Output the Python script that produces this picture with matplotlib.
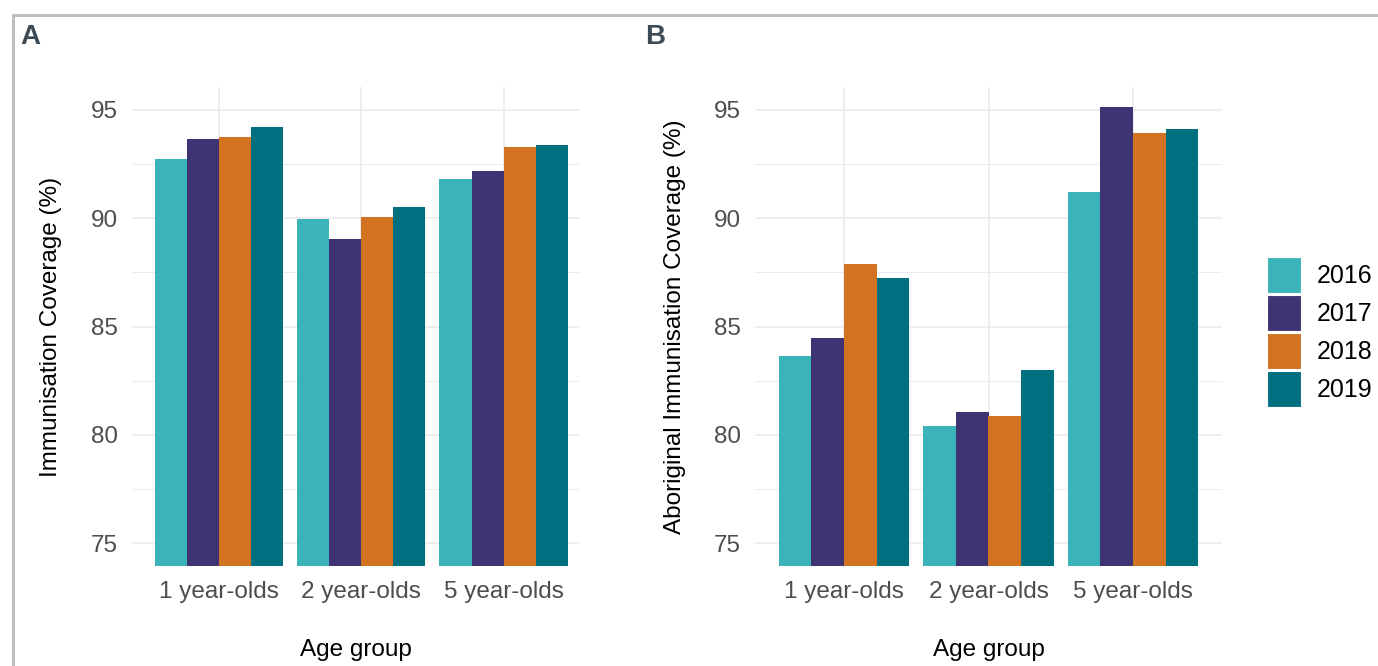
import matplotlib
matplotlib.use("Agg")
import matplotlib.pyplot as plt
import numpy as np
from matplotlib.patches import Patch
from matplotlib.lines import Line2D

plt.rcParams['font.family'] = ['Liberation Sans', 'DejaVu Sans']

categories = ["1 year-olds", "2 year-olds", "5 year-olds"]
years = ["2016", "2017", "2018", "2019"]
colors = ["#3BB4B9", "#3E3473", "#D27321", "#007080"]

# Panel A: Immunisation coverage (%) by year, per age group
cov_2016 = [92.74, 89.95, 91.81]
cov_2017 = [93.66, 89.02, 92.17]
cov_2018 = [93.76, 90.04, 93.29]
cov_2019 = [94.23, 90.52, 93.39]

# Panel B: Aboriginal immunisation coverage (%)
abo_2016 = [83.64, 80.40, 91.21]
abo_2017 = [84.46, 81.05, 95.12]
abo_2018 = [87.89, 80.87, 93.92]
abo_2019 = [87.25, 82.99, 94.12]

yticks = [75, 80, 85, 90, 95]
yminor = [77.5, 82.5, 87.5, 92.5]

W, H = 1378, 666
fig = plt.figure(figsize=(W / 100, H / 100), dpi=100)

TICK_FS = 17.5
LABEL_FS = 17.5


def make_panel(left, right, series, ylabel, xlim, ylabel_x, letter, letter_x):
    ax = fig.add_axes([left / W, (H - 566) / H, (right - left) / W, (566 - 87) / H])
    x = np.arange(1, len(categories) + 1)
    n = len(series)
    width = 0.9 / n
    for i, (vals, c) in enumerate(zip(series, colors)):
        ax.bar(x - 0.45 + width * (i + 0.5), vals, width=width, color=c,
               edgecolor='none', zorder=3, bottom=0)
    ax.set_ylim(73.94, 96.06)
    ax.set_xlim(*xlim)
    ax.set_yticks(yticks)
    ax.set_yticks(yminor, minor=True)
    ax.set_xticks(x)
    ax.set_xticklabels(categories)
    ax.grid(True, which='major', color='#EBEBEB', linewidth=1.2, zorder=0)
    ax.grid(True, which='minor', axis='y', color='#EBEBEB', linewidth=0.7, zorder=0)
    for s in ax.spines.values():
        s.set_visible(False)
    ax.tick_params(axis='both', which='both', length=0, labelsize=TICK_FS,
                   labelcolor='#4D4D4D')
    ax.tick_params(axis='x', pad=11)
    ax.tick_params(axis='y', pad=10)
    ax.set_ylabel(ylabel, fontsize=LABEL_FS, color='black')
    ax.yaxis.set_label_coords(ylabel_x, 0.5)
    ax.set_xlabel("Age group", fontsize=LABEL_FS, color='black')
    ax.xaxis.set_label_coords(0.5, -0.152)
    fig.text(letter_x / W, (H - 44) / H, letter, fontsize=20, fontweight='bold',
             color='#3D4B57', ha='left', va='baseline')
    return ax


axA = make_panel(132, 579, [cov_2016, cov_2017, cov_2018, cov_2019],
                 "Immunisation Coverage (%)", (0.39, 3.53), -0.157, "A", 20)
axB = make_panel(755, 1222, [abo_2016, abo_2017, abo_2018, abo_2019],
                 "Aboriginal Immunisation Coverage (%)", (0.384, 3.616), -0.148, "B", 645)

handles = [Patch(facecolor=c, edgecolor='white', linewidth=0.8) for c in colors]
fig.legend(handles, years, loc='center left', bbox_to_anchor=(1267 / W, 0.5015),
           frameon=False, fontsize=18, handlelength=1.36, handleheight=1.84,
           labelspacing=0.08, handletextpad=0.62, borderpad=0, borderaxespad=0)

# outer border (top and left edges)
yb = 1 - 14.5 / H
xb = 13 / W
fig.add_artist(Line2D([xb, xb, 1], [0, yb, yb], transform=fig.transFigure,
                      color='#BEBEBE', linewidth=2.2))

fig.savefig("out.png", dpi=100)
